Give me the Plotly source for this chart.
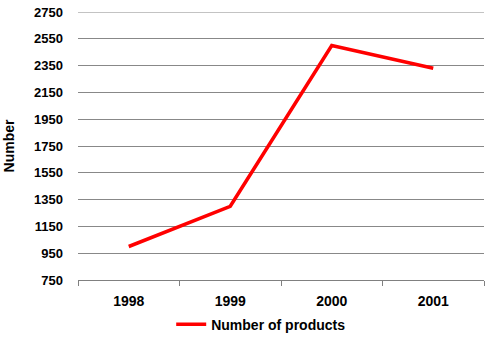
import plotly.graph_objects as go

years = ["1998", "1999", "2000", "2001"]
products = [1000, 1300, 2500, 2330]
y_ticks = [750, 950, 1150, 1350, 1550, 1750, 1950, 2150, 2350, 2550, 2750]

fig = go.Figure()
fig.add_trace(go.Scatter(
    x=years, y=products, mode="lines", name="<b>Number of products</b>",
    line=dict(color="#ff0000", width=3.5),
))

font = dict(family="Liberation Sans, Arial, sans-serif", size=12, color="#000000")
fig.update_layout(
    width=490, height=338,
    margin=dict(l=78, r=6, t=12, b=58, autoexpand=False),
    paper_bgcolor="white", plot_bgcolor="white",
    font=font,
    showlegend=True,
    legend=dict(orientation="h", x=0.45, xanchor="center", y=-0.107, yanchor="top",
                font=dict(family="Liberation Sans, Arial, sans-serif", size=14, color="#000"),
                itemwidth=30),
    xaxis=dict(
        type="category", range=[-0.5, 3.5], tickson="boundaries", ticks="outside", ticklen=5,
        tickcolor="#808080", showline=True, linecolor="#808080", linewidth=1,
        showgrid=False, tickfont=dict(size=14),
        tickprefix="<b>", ticksuffix="</b>", ticklabelstandoff=8,
    ),
    yaxis=dict(
        range=[750, 2750], tickvals=y_ticks,
        ticktext=[f"<b>{v}</b>" for v in y_ticks],
        showgrid=True, gridcolor="#888888", gridwidth=1,
        zeroline=False, showline=False, ticks="",
        tickfont=dict(size=13),
        ticklabelstandoff=14,
        title=dict(text="<b>Number</b>", standoff=16, font=dict(size=14)),
    ),
    shapes=[dict(type="line", xref="paper", x0=0, x1=1, yref="y", y0=y_ticks[-1], y1=y_ticks[-1],
                 line=dict(color="#888888", width=1), layer="below")],
)
fig.write_html("out.html")
